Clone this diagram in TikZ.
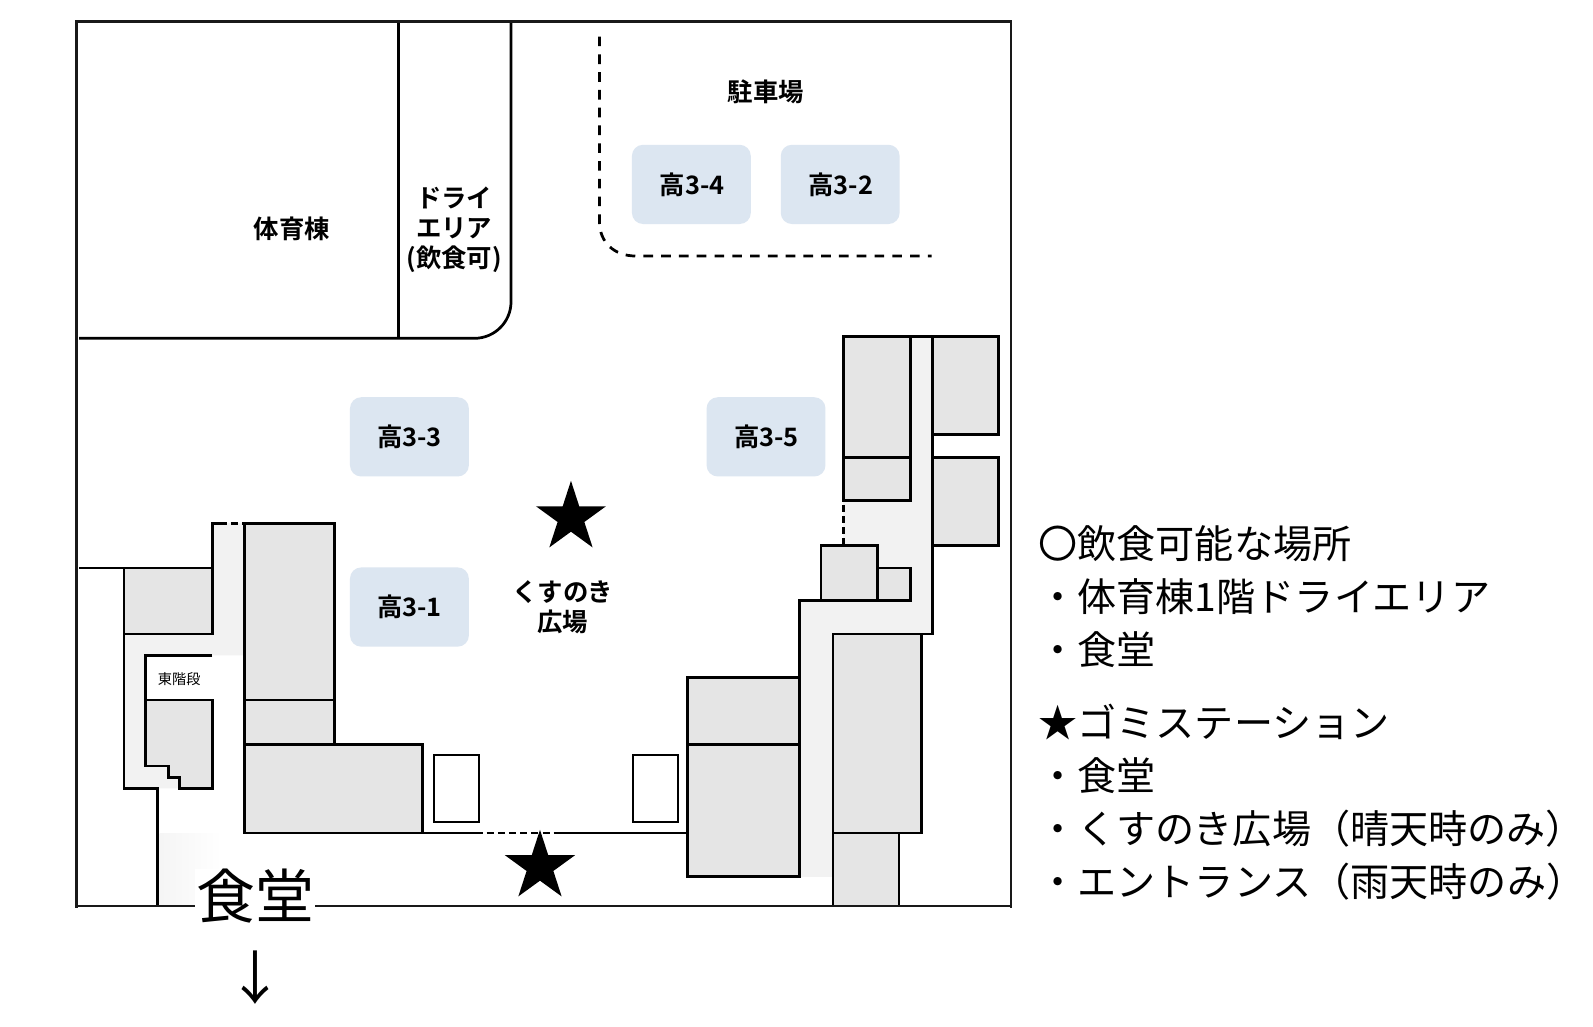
\documentclass[tikz,border=0pt]{standalone}
\usepackage{fontspec}
\setmainfont{Noto Sans CJK JP}[BoldFont={Noto Sans CJK JP Bold}]
\usetikzlibrary{shapes.geometric}
\definecolor{bgray}{HTML}{E5E5E5}
\definecolor{cgray}{HTML}{F2F2F2}
\definecolor{blueb}{HTML}{DCE6F1}
\tikzset{
  wall/.style={draw=black,line width=2.7pt,line join=miter},
  bld/.style={wall,fill=bgray},
  corridor/.style={fill=cgray,draw=none},
  doorway/.style={draw=black,line width=2.7pt,dash pattern=on 7pt off 4pt},
  parkline/.style={draw=black,line width=2.7pt,dash pattern=on 9.5pt off 8pt},
  classbox/.style={fill=blueb,rounded corners=11pt,minimum width=117pt,minimum height=78pt,inner sep=0pt,font=\fontsize{25}{30}\selectfont\bfseries,anchor=center},
  lbl/.style={font=\fontsize{25}{29.5}\selectfont\bfseries,align=center,inner sep=0pt},
  legend/.style={font=\fontsize{38.5}{46}\selectfont,anchor=west,inner sep=0pt},
  mark star/.style={star,star points=5,star point ratio=2.618,fill=black,draw=none,minimum size=72.5pt,inner sep=0pt}
}
\begin{document}
\begin{tikzpicture}[x=1pt,y=-1pt]
\useasboundingbox (0,0) rectangle (1568,1010);
\fill[white] (0,0) rectangle (1568,1010);
% faint patch
\shade[left color=black!4,right color=white] (157,820) rectangle (218,890);
% gym
\draw[wall] (78,333) -- (467,333) arc[start angle=90,end angle=0,radius=36] -- (503,21);
\draw[wall] (392,21) -- (392,333);
% parking
\draw[parkline] (590,36) -- (590,218) .. controls (590,238) and (604,252) .. (626,252) -- (917,252);
% corridors
\fill[corridor] (896,331) -- (918,331) -- (918,624) -- (820,624) -- (820,863) -- (787,863) -- (787,591) -- (896,591) -- (896,559) -- (864,559) -- (864,537) -- (830,537) -- (830,493) -- (896,493) -- cycle;
\fill[corridor] (209,515) -- (241,515) -- (241,645) -- (143,645) -- (143,754) -- (166,754) -- (166,765) -- (177,765) -- (177,776) -- (122,776) -- (122,624) -- (209,624) -- cycle;
% right buildings
\draw[bld] (830,331) rectangle (896,450);
\draw[bld] (830,450) rectangle (896,493);
\draw[wall] (896,331) -- (918,331);
\draw[bld] (918,331) rectangle (983,428);
\draw[bld] (918,450) rectangle (983,537);
\draw[wall] (918,428) -- (918,450);
\draw[wall] (918,537) -- (918,624) -- (820,624);
\draw[doorway] (830,497) -- (830,537);
\draw[bld] (808,537) rectangle (864,591);
\draw[bld] (864,559) rectangle (896,591);
\draw[wall] (808,591) -- (787,591) -- (787,667);
\draw[bld] (677,667) rectangle (787,733);
\draw[bld] (677,733) rectangle (787,863);
\draw[bld] (820,624) rectangle (907,820);
\draw[bld] (820,891) -- (820,820) -- (885,820) -- (885,891);
% bottom wall
\draw[wall] (416,820) -- (468,820);
\draw[doorway] (468,820) -- (547,820);
\draw[wall] (547,820) -- (677,820);
\draw[draw=black,fill=white,line width=2pt] (427,743) rectangle (471,809);
\draw[draw=black,fill=white,line width=2pt] (623,743) rectangle (667,809);
% left buildings
\draw[wall] (78,559) -- (122,559);
\draw[bld] (122,559) rectangle (209,624);
\draw[wall] (209,559) -- (209,515) -- (216,515);
\draw[doorway] (216,515) -- (241,515);
\draw[bld] (241,515) rectangle (329,689);
\draw[bld] (241,689) rectangle (329,733);
\draw[bld] (241,733) rectangle (416,820);
\draw[wall] (122,624) -- (122,776) -- (155,776) -- (155,892);
\draw[wall] (209,645) -- (143,645) -- (143,689);
\draw[bld] (143,689) -- (209,689) -- (209,776) -- (177,776) -- (177,765) -- (166,765) -- (166,754) -- (143,754) -- cycle;
% frame
\draw[draw=black!90,line width=2.7pt,line cap=rect] (75.5,892) -- (75.5,21) -- (995,21) -- (995,892);
\draw[draw=black!90,line width=2pt] (75,892) -- (995,892);
% class boxes
\node[classbox] (c34) at (680.5,181.5) {\hspace{1.5pt}高3-4};
\node[classbox] (c32) at (827,181.5) {\hspace{1.5pt}高3-2};
\node[classbox] (c33) at (403,430) {高3-3};
\node[classbox] (c35) at (754,430) {\hspace{1pt}高3-5};
\node[classbox] (c31) at (403,597.5) {高3-1};
% labels
\node[lbl] (gym) at (287.5,225) {体育棟};
\node[lbl] (dry) at (447,226) {ドライ\\エリア\\(飲食可)};
\node[lbl] (park) at (754,90) {駐車場};
\node[lbl] (kusu) at (554,597.5) {くすのき\\広場};
\node[font=\fontsize{14}{16}\selectfont,inner sep=0pt] (east) at (176.5,668) {東階段};
% stars
\node[mark star] (s1) at (562,509.5) {};
\node[mark star] (s2) at (531.5,853) {};
% canteen
\node[fill=white,font=\fontsize{58}{60}\selectfont,inner xsep=1pt,inner ysep=0pt] (shokudo) at (251,882) {食堂};
\node[font=\fontsize{57}{60}\selectfont,inner sep=0pt] (arrow) at (251,962) {↓};
% legend
\node[legend] (l1) at (1022,535) {〇飲食可能な場所};
\node[legend] (l2) at (1022,587) {・体育棟1階ドライエリア};
\node[legend] (l3) at (1022,639.5) {・食堂};
\node[legend] (l4) at (1022,711) {★ゴミステーション};
\node[legend] (l5) at (1022,763.5) {・食堂};
\node[legend] (l6) at (1022,815.5) {・くすのき広場（晴天時のみ）};
\node[legend] (l7) at (1022,867.5) {・エントランス（雨天時のみ）};
\end{tikzpicture}
\end{document}
